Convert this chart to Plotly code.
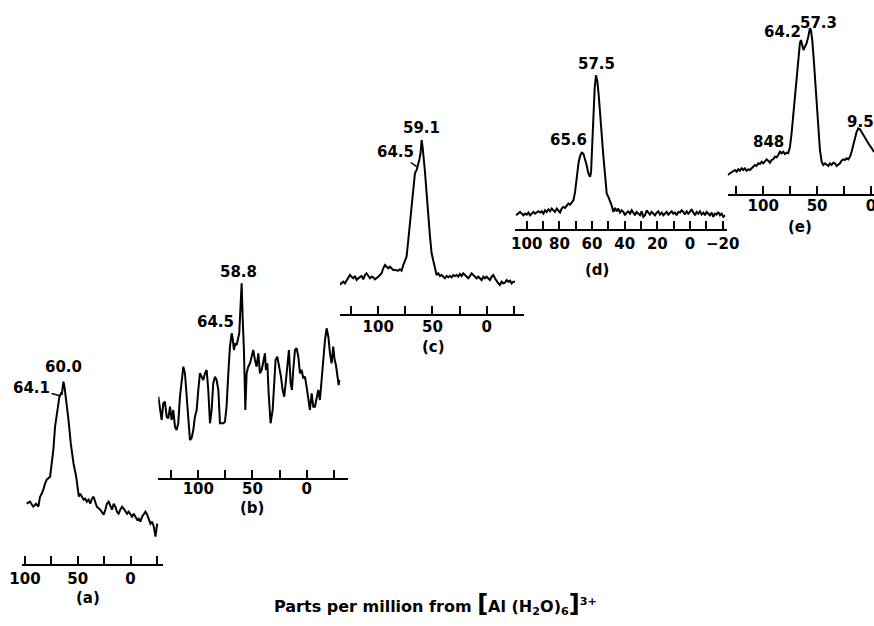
import plotly.graph_objects as go

W, H = 874, 626
FONT = "DejaVu Sans"

# ---------------- data (ppm, relative intensity) ----------------
a_ppm = [98.4, 95.2, 92.1, 89.5, 87.3, 85.7, 84.2, 82.6, 81.0, 79.4,
         76.2, 74.6, 73.1, 71.5, 69.9, 68.3, 67.4, 66.1, 65.1, 64.2,
         63.6, 62.6, 61.0, 58.8, 56.6, 54.0, 51.5, 50.2, 49.0, 47.7,
         46.1, 44.5, 43.0, 41.4, 39.8, 38.2, 36.6, 35.0, 33.5, 31.9,
         28.7, 25.5, 23.9, 22.4, 20.8, 19.2, 17.6, 16.0, 14.4, 12.9,
         11.3, 9.7, 8.1, 6.5, 4.9, 3.3, 1.8, 0.2, -1.4, -3.0,
         -4.6, -6.2, -7.8, -9.3, -10.9, -12.5, -14.1, -15.7, -17.3, -18.8,
         -20.4, -22.0, -23.6, -25.2]
a_int = [43, 45, 40, 43, 40, 50, 53, 57, 63, 67,
         70, 83, 97, 120, 130, 143, 150, 153, 152, 160,
         165, 160, 147, 127, 103, 83, 70, 57, 50, 53,
         50, 47, 48, 45, 47, 43, 48, 50, 45, 40,
         37, 32, 37, 43, 45, 40, 37, 43, 40, 35,
         33, 37, 40, 38, 35, 33, 35, 32, 30, 33,
         30, 27, 28, 25, 30, 33, 35, 32, 27, 23,
         25, 20, 10, 23]

b_ppm = [139.1, 138.4, 136.9, 135.4, 133.8, 132.3, 130.8, 129.2, 127.7, 126.1,
         124.6, 123.1, 121.5, 120.0, 118.5, 116.9, 115.4, 113.8, 112.3, 110.8,
         109.2, 107.7, 106.2, 104.6, 103.1, 101.5, 100.0, 98.5, 96.9, 95.4,
         93.8, 92.3, 90.8, 89.2, 87.7, 86.2, 84.6, 83.1, 81.5, 80.0,
         78.5, 76.9, 75.4, 73.9, 72.3, 70.8, 69.2, 68.3, 67.1, 65.9,
         64.6, 63.1, 62.2, 60.9, 60.0, 59.1, 57.9, 56.6, 55.4, 53.9,
         52.3, 50.8, 49.3, 47.7, 46.2, 44.6, 43.1, 41.5, 40.0, 38.5,
         37.6, 36.3, 35.1, 33.3, 31.4, 30.2, 28.7, 27.1, 25.3, 23.7,
         22.2, 20.7, 19.1, 17.9, 16.4, 14.8, 13.6, 12.4, 10.8, 9.3,
         7.7, 6.2, 4.7, 3.1, 1.6, 0.1, -1.5, -3.0, -4.6, -6.1,
         -7.6, -9.2, -10.7, -12.2, -13.8, -15.3, -16.9, -18.4, -20.0, -21.5,
         -23.0, -24.5, -25.8, -27.0, -28.2, -29.5, -30.1]
b_int = [56.7, 46.7, 53.3, 40, 30, 46.7, 48.3, 33.3, 31.7, 43.3,
         30, 40, 23.3, 20, 26.7, 53.3, 70, 83.3, 76.7, 53.3,
         26.7, 10, 11.7, 20, 33.3, 40, 60, 76.7, 73.3, 70,
         76.7, 80, 60, 26.7, 40, 66.7, 73.3, 70, 60, 26.7,
         26.7, 26.7, 28.3, 43.3, 76.7, 103.3, 116.7, 111.7, 100, 106.7,
         105, 113.3, 116.7, 146.7, 166.7, 133.3, 100, 40, 76.7, 83.3,
         86.7, 93.3, 100, 90, 83.3, 96.7, 76.7, 80, 90, 96.7,
         80, 86.7, 56.7, 26.7, 40, 66.7, 90, 93.3, 83.3, 73.3,
         60, 53.3, 70, 86.7, 100, 66.7, 60, 80, 100, 101.7,
         93.3, 76.7, 80, 71.7, 73.3, 63.3, 53.3, 40, 56.7, 43.3,
         43.3, 53.3, 60, 50, 73.3, 96.7, 110, 121.7, 113.3, 96.7,
         86.7, 103.3, 90, 85, 73.3, 65, 70]

c_ppm = [136.0, 133.8, 132.3, 130.8, 129.2, 127.7, 126.1, 124.6, 123.1, 121.5,
         120.0, 118.5, 116.9, 115.4, 113.8, 112.3, 110.8, 109.2, 107.7, 106.2,
         104.6, 103.1, 101.5, 100.0, 98.5, 96.9, 95.4, 93.8, 92.3, 90.8,
         89.2, 87.7, 86.2, 84.6, 83.1, 81.5, 80.0, 78.5, 76.9, 75.4,
         73.9, 72.3, 70.8, 69.2, 67.7, 66.2, 64.6, 63.1, 62.2, 61.0,
         60.0, 59.0, 58.0, 56.9, 55.4, 53.9, 52.3, 50.8, 49.3, 47.7,
         46.2, 44.6, 43.1, 41.6, 40.0, 38.5, 37.0, 35.4, 33.9, 32.3,
         30.8, 29.3, 27.7, 26.2, 24.7, 23.1, 21.6, 20.0, 18.5, 17.0,
         15.4, 13.9, 12.4, 10.8, 9.3, 7.7, 6.2, 4.7, 3.1, 1.6,
         0.1, -1.5, -3.0, -4.6, -6.1, -7.6, -9.2, -10.7, -12.2, -13.8,
         -15.3, -16.8, -18.4, -19.9, -21.5, -23.0, -24.5, -26.1]
c_int = [5, 6.7, 8.3, 6.7, 10, 13.3, 15, 13.3, 11.7, 14,
         10, 11.7, 13.3, 14, 10.7, 15, 16.7, 14, 11.7, 13.3,
         12.7, 10.7, 11.7, 13.3, 15, 16.7, 21.7, 25, 23.3, 21.7,
         23.3, 21.7, 20, 20, 19.3, 19.3, 20.7, 19.3, 25, 30,
         33.3, 50, 66.7, 90, 106.7, 116.7, 120, 125, 130, 137,
         150, 142, 133, 118, 96.7, 73.3, 53.3, 36.7, 30, 20,
         15, 16.7, 14, 15, 13.3, 11.7, 14, 12.7, 14, 12.7,
         15, 14, 15, 13.3, 16, 14, 16.7, 15, 13.3, 11.7,
         14, 16.7, 15, 13.3, 11.7, 13.3, 11.7, 10, 13.3, 11.7,
         13.3, 11.7, 10, 13.3, 15, 11.7, 8.3, 6.7, 5, 8.3,
         6.7, 7.3, 10, 8.3, 9.3, 6.7, 8.3, 8.3]

d_ppm = [106.5, 105.1, 104.1, 103.1, 102.0, 101.0, 100.0, 99.0, 98.0, 96.9,
         95.9, 94.9, 93.9, 92.9, 91.8, 90.8, 89.8, 88.8, 87.8, 86.7,
         85.7, 84.7, 83.7, 82.7, 81.6, 80.6, 79.6, 78.6, 77.6, 76.5,
         75.5, 74.5, 73.5, 72.4, 71.4, 70.4, 69.8, 69.0, 68.2, 67.3,
         66.3, 65.3, 64.3, 63.3, 62.2, 61.2, 60.6, 60.0, 59.2, 58.4,
         57.6, 56.7, 55.9, 55.1, 54.1, 53.1, 52.0, 51.0, 50.0, 49.0,
         48.0, 46.9, 45.9, 44.9, 43.9, 42.9, 41.8, 40.8, 39.8, 38.8,
         37.8, 36.7, 35.7, 34.7, 33.7, 32.7, 31.6, 30.6, 29.6, 28.6,
         27.6, 26.5, 25.5, 24.5, 23.5, 22.4, 21.4, 20.4, 19.4, 18.4,
         17.3, 16.3, 15.3, 14.3, 13.3, 12.2, 11.2, 10.2, 9.2, 8.2,
         7.1, 6.1, 5.1, 4.1, 3.1, 2.0, 1.0, 0.0, -1.0, -2.0,
         -3.1, -4.1, -5.1, -6.1, -7.1, -8.2, -9.2, -10.2, -11.2, -12.2,
         -13.3, -14.3, -15.3, -16.3, -17.3, -18.4, -19.4, -20.4, -21.4]
d_int = [13.3, 15, 16.7, 15, 13.3, 15, 14, 16, 13.3, 15,
         16.7, 15, 16, 17.3, 16, 17.3, 15, 18.3, 16.7, 19.3,
         17.3, 20, 18.3, 16.7, 20, 18.3, 16, 20, 21.7, 20.7,
         23.3, 25, 24, 26.7, 28.3, 36.7, 46.7, 56.7, 66.7, 72.7,
         76, 75, 70, 63.3, 55, 51.7, 56.7, 83.3, 113.3, 140,
         153.3, 146.7, 133.3, 113.3, 93.3, 73.3, 53.3, 35, 31.7, 28.3,
         23.3, 16.7, 20.7, 17.3, 20, 16, 18.3, 16.7, 13.3, 16,
         17.3, 15, 18.3, 16, 13.3, 16.7, 15, 13.3, 17.3, 11.7,
         13.3, 18.3, 16, 14, 16.7, 15, 13.3, 16, 17.3, 14,
         16, 13.3, 15, 16.7, 14, 16, 17.3, 15, 16, 13.3,
         16.7, 16, 18.3, 16.7, 14, 17.3, 15, 16.7, 19.3, 16,
         13.3, 16.7, 15, 17.3, 14, 16, 13.3, 16.7, 15, 13.3,
         16, 11.7, 15, 14, 16.7, 13.3, 15, 11.7, 13.3]

e_ppm = [133.1, 131.0, 129.4, 127.9, 126.3, 124.8, 123.2, 121.7, 120.1, 118.6,
         117.0, 115.5, 113.9, 112.4, 110.8, 109.3, 107.7, 106.2, 104.6, 103.1,
         101.5, 100.0, 98.5, 96.9, 95.4, 93.8, 92.3, 90.7, 89.2, 87.6,
         86.1, 84.5, 83.0, 81.4, 79.9, 78.3, 76.8, 75.2, 73.7, 72.1,
         70.6, 69.0, 67.5, 66.0, 65.0, 63.8, 62.6, 61.3, 59.8, 58.2,
         56.7, 55.7, 54.5, 53.3, 52.0, 50.5, 48.9, 47.4, 45.8, 44.3,
         42.7, 41.2, 39.6, 38.1, 36.6, 35.0, 33.5, 31.9, 30.4, 28.8,
         27.3, 25.7, 24.2, 22.6, 21.1, 19.5, 18.0, 16.4, 14.9, 13.3,
         11.8, 10.2, 8.7, 7.1, 5.6, 4.0, 2.5, 0.9, -0.6, -2.8]
e_int = [5, 6.7, 7.3, 9.3, 10, 8.3, 10.7, 9.3, 11.7, 10,
         11.7, 9.3, 10.7, 10, 11.7, 13.3, 15, 14, 16.7, 16,
         18.3, 16.7, 18.3, 20.7, 19.3, 17.3, 20, 20.7, 23.3, 22.7,
         25, 28.3, 26.7, 28.3, 26, 27.3, 26.7, 33.3, 46.7, 66.7,
         86.7, 103.3, 120, 136.7, 140, 133.3, 130, 133.3, 136.7, 143.3,
         151.7, 150, 140, 123.3, 103.3, 80, 53.3, 30, 18.3, 15,
         16.7, 15, 14, 16.7, 15, 17.3, 16.7, 14, 15, 16.7,
         19.3, 20.7, 20, 21.7, 20.7, 23.3, 28.3, 35, 43.3, 48.3,
         51.7, 50.7, 48, 45, 42, 40, 37, 34, 32, 28]

# tick values / labels
t25_vals = [125, 100, 75, 50, 25, 0, -25]
t25_text = [" ", "100", " ", "50", " ", "0", " "]
d_tick_vals = [100, 90, 80, 70, 60, 50, 40, 30, 20, 10, 0, -10, -20]
d_tick_text = ["100", " ", "80", " ", "60", " ", "40", " ", "20", " ", "0", " ", "\u221220"]

# peak labels: (text, ppm, intensity, arrow target ppm, arrow target intensity)
a_labels = [("60.0", 63.7, 180, None, None), ("64.1", 93.7, 158.4, 65.9, 150.7)]
b_labels = [("58.8", 63.1, 178.3, None, None), ("64.5", 83.7, 128.3, None, None)]
c_labels = [("59.1", 60.0, 162, None, None), ("64.5", 83.7, 138, 64.6, 123.3)]
d_labels = [("57.5", 57.1, 165, None, None), ("65.6", 74.5, 88.3, None, None)]
e_labels = [("57.3", 48.9, 156.7, None, None), ("64.2", 81.7, 148.3, None, None),
            ("848", 95.4, 38.3, None, None), ("9.5", 9.3, 58, None, None)]

# ---------------- layout of the panels (pixel boxes) ----------------
panels = [
    dict(ppm=a_ppm, inten=a_int, px=(22, 163), axis_px=564, xr=(102.8, -30.7), yr=(-17.3, 190),
         tv=t25_vals, tt=t25_text, labels=a_labels, tag="(a)", tag_px=(88, 598), standoff=0),
    dict(ppm=b_ppm, inten=b_int, px=(158.3, 348.3), axis_px=477.7, xr=(136.9, -38.4), yr=(-27.7, 190),
         tv=t25_vals, tt=t25_text, labels=b_labels, tag="(b)", tag_px=(252, 508), standoff=-4),
    dict(ppm=c_ppm, inten=c_int, px=(340, 524.3), axis_px=314.3, xr=(135.3, -34.7), yr=(-24.3, 175),
         tv=t25_vals, tt=t25_text, labels=c_labels, tag="(c)", tag_px=(433, 347), standoff=-2),
    dict(ppm=d_ppm, inten=d_int, px=(515, 726.7), axis_px=229.3, xr=(107.2, -22.5), yr=(-0.7, 175),
         tv=d_tick_vals, tt=d_tick_text, labels=d_labels, tag="(d)", tag_px=(597, 270), standoff=0),
    dict(ppm=e_ppm, inten=e_int, px=(727.7, 874), axis_px=194, xr=(133.0, -2.8), yr=(-14, 175),
         tv=t25_vals, tt=t25_text, labels=e_labels, tag="(e)", tag_px=(800, 227), standoff=-3),
]

fig = go.Figure()
layout = {}
annotations = []
tfont = dict(family=FONT, size=15, color="black", weight="bold")

for i, p in enumerate(panels):
    n = "" if i == 0 else str(i + 1)
    xname, yname = "x" + n, "y" + n
    fig.add_trace(go.Scatter(x=p["ppm"], y=p["inten"], mode="lines",
                             line=dict(color="black", width=2),
                             xaxis=xname, yaxis=yname, showlegend=False, hoverinfo="skip"))
    x0, x1 = p["px"]
    span = p["yr"][1] - p["yr"][0]
    layout["xaxis" + n] = dict(domain=[x0 / W, x1 / W], range=list(p["xr"]), anchor=yname,
                               showline=True, linecolor="black", linewidth=2,
                               ticks="inside", ticklen=8, tickwidth=2, tickcolor="black",
                               tickmode="array", tickvals=p["tv"], ticktext=p["tt"],
                               ticklabelstandoff=p["standoff"],
                               tickangle=0, showgrid=False, zeroline=False, tickfont=tfont,
                               ticklabeloverflow="allow", automargin=False, fixedrange=True)
    layout["yaxis" + n] = dict(domain=[1 - p["axis_px"] / H, 1 - (p["axis_px"] - span) / H],
                               range=list(p["yr"]), anchor=xname, visible=False,
                               automargin=False, fixedrange=True)
    for (txt, lx, ly, tx, ty) in p["labels"]:
        if tx is None:
            annotations.append(dict(text=txt, x=lx, y=ly, xref=xname, yref=yname,
                                    xanchor="center", yanchor="middle",
                                    showarrow=False, font=tfont))
        else:
            annotations.append(dict(text=txt, x=tx, y=ty, ax=lx, ay=ly, xref=xname, yref=yname,
                                    axref=xname, ayref=yname, showarrow=True, arrowhead=0,
                                    xanchor="center", yanchor="middle",
                                    arrowwidth=1.5, arrowcolor="black", font=tfont))
    annotations.append(dict(text=p["tag"], x=p["tag_px"][0] / W, y=1 - p["tag_px"][1] / H,
                            xref="paper", yref="paper", xanchor="center", yanchor="middle",
                            showarrow=False, font=tfont))

annotations.append(dict(
    text="Parts per million from <span style='font-size:24px'>[</span>Al (H<sub>2</sub>O)<sub>6</sub>"
         "<span style='font-size:24px'>]</span><sup>3+</sup>",
    x=435 / W, y=1 - 604 / H, xref="paper", yref="paper", xanchor="center", yanchor="middle",
    showarrow=False, font=dict(family=FONT, size=16, color="black", weight="bold")))

fig.update_layout(width=W, height=H,
                  margin=dict(l=0, r=0, t=0, b=0, pad=0, autoexpand=False),
                  paper_bgcolor="white", plot_bgcolor="white",
                  annotations=annotations, **layout)

fig.write_html("out.html", config={"displayModeBar": False},
               post_script="document.body.style.margin='0';document.body.style.overflow='hidden';"
                           "document.documentElement.style.overflow='hidden';")
